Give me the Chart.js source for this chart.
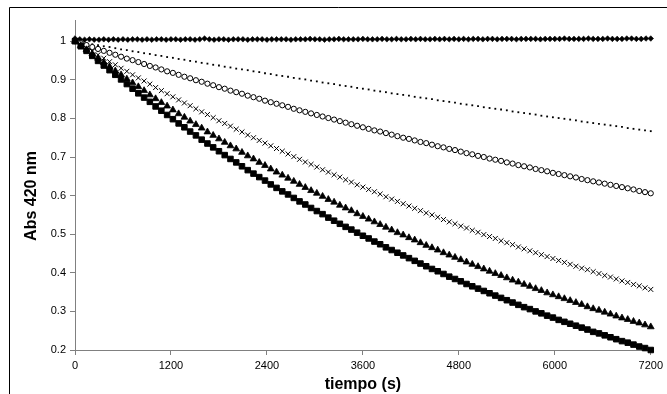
<!DOCTYPE html>
<html>
<head>
<meta charset="utf-8">
<script src="https://cdn.jsdelivr.net/npm/chart.js@4"></script>
<style>
  html, body { margin: 0; padding: 0; background: #fff; }
  #wrap { width: 667px; height: 394px; position: relative; }
</style>
</head>
<body>
<div id="wrap"><canvas id="c" width="667" height="394"></canvas></div>
<script>
// Absorbance at 420 nm recorded over two hours for six samples.
const SAMPLE_STEP = 72;        // seconds between readings (most runs)
const SAMPLE_STEP_STABLE = 60; // seconds between readings (stable run)
const timeSeconds = Array.from({ length: 101 }, (_, i) => i * SAMPLE_STEP);
const timeSecondsStable = Array.from({ length: 121 }, (_, i) => i * SAMPLE_STEP_STABLE);

const xTicks = [0, 1200, 2400, 3600, 4800, 6000, 7200];
const yTicks = [0.2, 0.3, 0.4, 0.5, 0.6, 0.7, 0.8, 0.9, 1];

const absStable = [
  1.007,1.005,1.004,1.005,1.004,1.004,1.005,1.004,1.005,1.004,
  1.005,1.004,1.005,1.005,1.004,1.005,1.004,1.005,1.005,1.004,
  1.005,1.005,1.004,1.005,1.005,1.004,1.005,1.007,1.005,1.004,
  1.005,1.005,1.004,1.005,1.005,1.005,1.004,1.005,1.005,1.005,
  1.004,1.005,1.005,1.005,1.005,1.004,1.005,1.005,1.005,1.006,
  1.005,1.005,1.004,1.005,1.005,1.006,1.005,1.005,1.005,1.005,
  1.006,1.005,1.005,1.005,1.006,1.005,1.005,1.006,1.005,1.005,
  1.006,1.005,1.006,1.005,1.005,1.006,1.005,1.006,1.005,1.006,
  1.005,1.006,1.005,1.006,1.006,1.005,1.006,1.006,1.005,1.006,
  1.006,1.006,1.005,1.006,1.006,1.006,1.006,1.005,1.006,1.006,
  1.006,1.006,1.007,1.006,1.006,1.006,1.006,1.007,1.006,1.006,
  1.006,1.007,1.006,1.006,1.006,1.007,1.007,1.006,1.006,1.007,
  1.007
];

const absSlow = [
  1.000,0.997,0.995,0.992,0.990,0.987, 0.985,0.982,0.979,0.977,0.974,
  0.972,0.969,0.967,0.964,0.962, 0.959,0.957,0.954,0.952,0.949,
  0.947,0.944,0.942,0.939,0.937, 0.934,0.932,0.929,0.927,0.925,
  0.922,0.920,0.917,0.915,0.912, 0.910,0.908,0.905,0.903,0.901,
  0.898,0.896,0.893,0.891,0.889, 0.886,0.884,0.882,0.879,0.877,
  0.875,0.872,0.870,0.868,0.865, 0.863,0.861,0.859,0.856,0.854,
  0.852,0.850,0.847,0.845,0.843, 0.841,0.838,0.836,0.834,0.832,
  0.829,0.827,0.825,0.823,0.821, 0.818,0.816,0.814,0.812,0.810,
  0.807,0.805,0.803,0.801,0.799, 0.797,0.795,0.792,0.790,0.788,
  0.786,0.784,0.782,0.780,0.778, 0.775,0.773,0.771,0.769,0.767
];

const absCircles = [
  1.000,0.995,0.990,0.985,0.980,0.975, 0.970,0.965,0.960,0.955,0.951,
  0.946,0.941,0.936,0.932,0.927, 0.922,0.918,0.913,0.908,0.904,
  0.899,0.895,0.890,0.886,0.881, 0.877,0.872,0.868,0.864,0.859,
  0.855,0.851,0.846,0.842,0.838, 0.834,0.830,0.825,0.821,0.817,
  0.813,0.809,0.805,0.801,0.797, 0.793,0.789,0.785,0.781,0.777,
  0.773,0.769,0.766,0.762,0.758, 0.754,0.750,0.747,0.743,0.739,
  0.736,0.732,0.728,0.725,0.721, 0.718,0.714,0.710,0.707,0.703,
  0.700,0.696,0.693,0.690,0.686, 0.683,0.679,0.676,0.673,0.669,
  0.666,0.663,0.659,0.656,0.653, 0.650,0.647,0.643,0.640,0.637,
  0.634,0.631,0.628,0.625,0.622, 0.619,0.616,0.612,0.609,0.606
];

const absCrosses = [
  1.000,0.991,0.982,0.974,0.965,0.956, 0.947,0.939,0.930,0.922,0.913,
  0.905,0.897,0.889,0.880,0.872, 0.864,0.856,0.848,0.840,0.833,
  0.825,0.817,0.810,0.802,0.794, 0.787,0.780,0.772,0.765,0.757,
  0.750,0.743,0.736,0.729,0.722, 0.715,0.708,0.701,0.694,0.687,
  0.681,0.674,0.667,0.661,0.654, 0.648,0.641,0.635,0.628,0.622,
  0.616,0.610,0.604,0.597,0.591, 0.585,0.579,0.573,0.567,0.561,
  0.555,0.550,0.544,0.538,0.532, 0.527,0.521,0.516,0.510,0.505,
  0.499,0.494,0.489,0.483,0.478, 0.473,0.467,0.462,0.457,0.452,
  0.447,0.442,0.437,0.432,0.427, 0.422,0.417,0.412,0.408,0.403,
  0.398,0.393,0.389,0.384,0.379, 0.375,0.370,0.366,0.361,0.357
];

const absTriangles = [
  1.000,0.989,0.978,0.967,0.956,0.945, 0.934,0.923,0.913,0.902,0.892,
  0.882,0.872,0.861,0.851,0.841, 0.832,0.822,0.812,0.803,0.793,
  0.784,0.775,0.765,0.756,0.747, 0.738,0.729,0.721,0.712,0.703,
  0.695,0.686,0.678,0.669,0.661, 0.653,0.645,0.637,0.629,0.621,
  0.613,0.606,0.598,0.590,0.583, 0.575,0.568,0.561,0.553,0.546,
  0.539,0.532,0.525,0.518,0.511, 0.504,0.498,0.491,0.485,0.478,
  0.471,0.465,0.459,0.452,0.446, 0.440,0.434,0.428,0.422,0.416,
  0.410,0.404,0.398,0.393,0.387, 0.381,0.376,0.370,0.365,0.359,
  0.354,0.348,0.343,0.338,0.333, 0.328,0.323,0.318,0.312,0.307,
  0.303,0.298,0.293,0.288,0.283, 0.279,0.274,0.270,0.265,0.260
];

const absSquares = [
  1.000,0.987,0.975,0.962,0.949,0.937,0.925,0.913,0.901,0.889,0.877,
  0.865,0.854,0.843,0.831,0.820,0.809,0.798,0.787,0.777,0.766,
  0.756,0.745,0.735,0.725,0.715,0.705,0.695,0.686,0.676,0.666,
  0.657,0.648,0.639,0.629,0.620,0.611,0.603,0.594,0.585,0.577,
  0.568,0.560,0.552,0.543,0.535,0.527,0.519,0.512,0.504,0.496,
  0.489,0.481,0.474,0.466,0.459,0.452,0.445,0.438,0.431,0.424,
  0.417,0.410,0.404,0.397,0.390,0.384,0.378,0.371,0.365,0.359,
  0.353,0.347,0.341,0.335,0.329,0.323,0.317,0.311,0.306,0.300,
  0.295,0.289,0.284,0.278,0.273,0.268,0.263,0.258,0.253,0.247,
  0.243,0.238,0.233,0.228,0.223,0.219,0.214,0.209,0.205,0.200
];

const FONT = '"Liberation Sans", Arial, sans-serif';
Chart.defaults.font.family = FONT;
Chart.defaults.font.size = 11;
Chart.defaults.color = '#000';

const toPoints = (xs, ys) => ys.map((y, i) => ({ x: xs[i], y }));

function markerSet(label, xs, ys, style, radius, fill, borderWidth) {
  return {
    label,
    data: toPoints(xs, ys),
    showLine: false,
    pointStyle: style,
    pointRadius: radius,
    pointBackgroundColor: fill,
    pointBorderColor: '#000',
    pointBorderWidth: borderWidth,
    clip: false
  };
}

const datasets = [
  markerSet('cuadrados', timeSeconds, absSquares, 'rect', 3.9, '#000', 1),
  markerSet('triángulos', timeSeconds, absTriangles, 'triangle', 3.9, '#000', 0.8),
  markerSet('cruces', timeSeconds, absCrosses, 'crossRot', 3.5, '#000', 1),
  markerSet('círculos', timeSeconds, absCircles, 'circle', 2.6, '#fff', 1),
  markerSet('puntos', timeSeconds, absSlow, 'rect', 1.3, '#000', 0),
  markerSet('rombos', timeSecondsStable, absStable, 'rectRot', 2.8, '#000', 0.6)
];

// White background, outer frame and rotated y-axis title.
const decorations = {
  id: 'decorations',
  beforeDraw(chart) {
    const ctx = chart.ctx;
    ctx.save();
    ctx.fillStyle = '#fff';
    ctx.fillRect(0, 0, chart.width, chart.height);
    ctx.strokeStyle = '#000';
    ctx.lineWidth = 1;
    ctx.beginPath();
    ctx.moveTo(9.5, chart.height);
    ctx.lineTo(9.5, 7.5);
    ctx.lineTo(chart.width, 7.5);
    ctx.stroke();
    ctx.restore();
  },
  afterDraw(chart) {
    const ctx = chart.ctx;
    ctx.save();
    ctx.translate(32, 196);
    ctx.rotate(-Math.PI / 2);
    ctx.font = 'bold 16px ' + FONT;
    ctx.fillStyle = '#000';
    ctx.textAlign = 'center';
    ctx.textBaseline = 'middle';
    ctx.fillText('Abs 420 nm', 0, 0);
    ctx.restore();
  }
};

new Chart(document.getElementById('c'), {
  type: 'scatter',
  data: { datasets },
  plugins: [decorations],
  options: {
    responsive: false,
    animation: false,
    events: [],
    layout: { padding: { left: 0, right: 14, top: 20, bottom: 0 } },
    plugins: { legend: { display: false }, tooltip: { enabled: false } },
    scales: {
      x: {
        type: 'linear',
        min: xTicks[0],
        max: xTicks[xTicks.length - 1],
        afterBuildTicks(scale) { scale.ticks = xTicks.map(v => ({ value: v })); },
        ticks: { padding: 4, maxRotation: 0, autoSkip: false, callback: v => String(v) },
        grid: { drawOnChartArea: false, drawTicks: true, tickLength: 5, color: '#808080' },
        border: { display: true, color: '#808080', width: 1 },
        title: { display: true, text: 'tiempo (s)', font: { size: 16, weight: 'bold' }, color: '#000', padding: { top: 0, bottom: 0 } },
        afterFit(scale) { scale.height = 44; }
      },
      y: {
        type: 'linear',
        min: yTicks[0],
        max: 1.055,
        afterBuildTicks(scale) { scale.ticks = yTicks.map(v => ({ value: v })); },
        ticks: { padding: 4, autoSkip: false, callback: v => String(Math.round(v * 10) / 10) },
        grid: { drawOnChartArea: false, drawTicks: true, tickLength: 5, color: '#808080' },
        border: { display: true, color: '#808080', width: 1 },
        afterFit(scale) { scale.width = 75; }
      }
    }
  }
});
</script>
</body>
</html>
